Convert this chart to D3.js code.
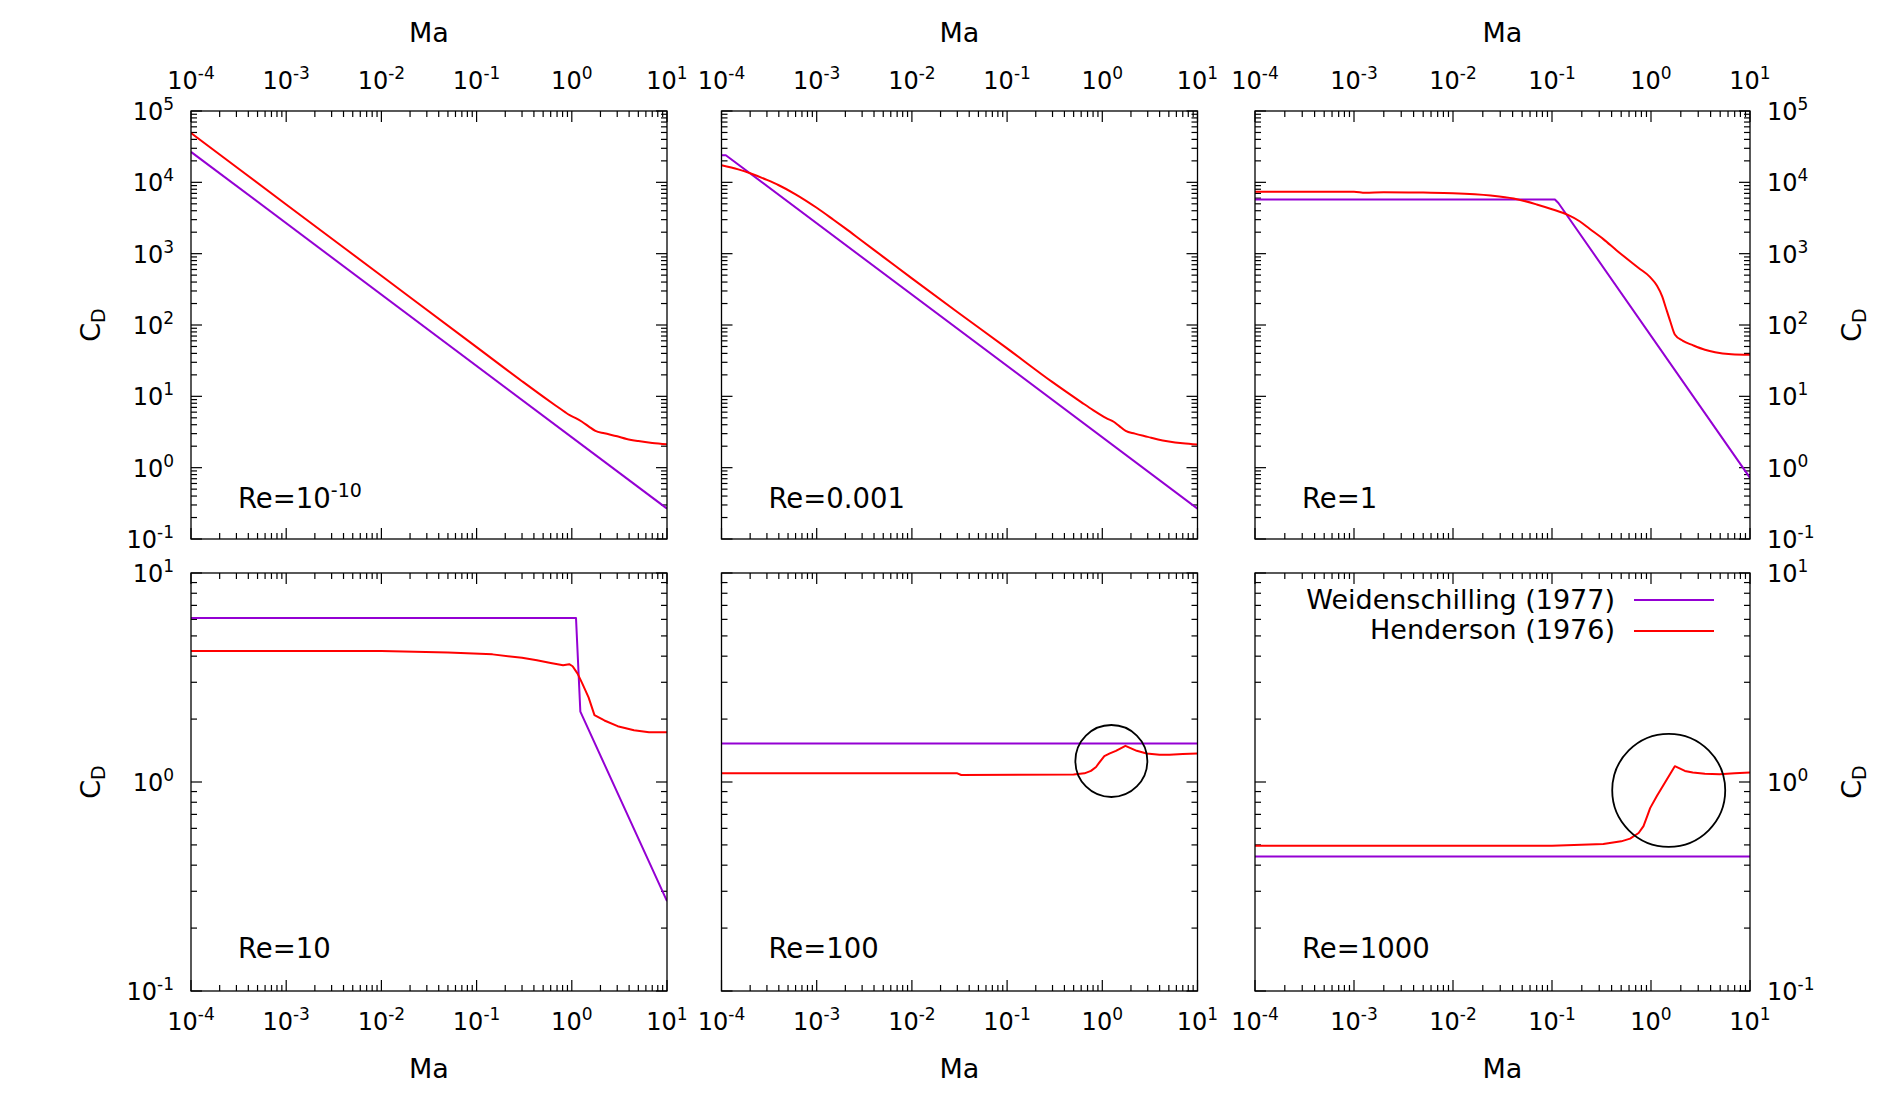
<!DOCTYPE html>
<html><head><meta charset="utf-8">
<script src="https://cdn.jsdelivr.net/npm/d3@7"></script>
<style>
body{margin:0;background:#fff}
svg{display:block}
text{font-family:"DejaVu Sans",sans-serif;fill:#000}
</style>
</head><body>
<svg id="chart" width="1900" height="1100"></svg>
<script>
// ---------------- data ----------------
const panelLabels = [["Re=10","-10"],["Re=0.001"],["Re=1"],["Re=10"],["Re=100"],["Re=1000"]];
const seriesNames = ["Weidenschilling (1977)", "Henderson (1976)"];
const xTickValues = [1e-4, 1e-3, 1e-2, 1e-1, 1, 10];
const xTickExponents = ["-4", "-3", "-2", "-1", "0", "1"];
const yTickValuesTop = [1e-1, 1, 10, 100, 1e3, 1e4, 1e5];
const yTickExponentsTop = ["-1", "0", "1", "2", "3", "4", "5"];
const yTickValuesBottom = [1e-1, 1, 10];
const yTickExponentsBottom = ["-1", "0", "1"];

// [Ma, C_D]
const weidRe1em10 = [[1e-4, 26700], [10, 0.267]];
const hendRe1em10 = [[1e-4, 49000], [1e-3, 4900], [1e-2, 490], [0.1, 49], [0.3, 16.3], [0.5, 9.9], [0.7, 7.2],
  [0.85, 6.0], [0.95, 5.45], [1.1, 4.95], [1.28, 4.4], [1.5, 3.8], [1.77, 3.27], [2.2, 3.03], [3, 2.75],
  [3.77, 2.53], [5, 2.36], [7, 2.22], [10, 2.13]];

const weidRe1em3 = [[1e-4, 24000], [1.11e-4, 24000], [10, 0.267]];
const hendRe1em3 = [[1e-4, 17400], [1.5e-4, 15200], [2e-4, 13400], [3e-4, 10800], [4e-4, 9100], [6e-4, 6800],
  [1e-3, 4400], [1.5e-3, 2990], [2e-3, 2260], [3e-3, 1505], [5e-3, 903], [1e-2, 451], [3e-2, 152],
  [0.1, 47], [0.3, 15.8], [0.6, 8.3], [0.8, 6.4], [0.96, 5.5], [1.1, 4.95], [1.33, 4.37], [1.5, 3.85],
  [1.76, 3.27], [2.2, 3.0], [3, 2.7], [3.85, 2.48], [5, 2.33], [7, 2.2], [10, 2.11]];

const weidRe1 = [[1e-4, 5740], [0.107, 5740], [0.116, 5130], [10, 0.72]];
const hendRe1 = [[1e-4, 7390], [1e-3, 7390], [1.3e-3, 7150], [2e-3, 7280], [5e-3, 7180], [1e-2, 7050],
  [0.024, 6550], [0.041, 5940], [0.07, 4900], [0.1, 4200], [0.143, 3530], [0.19, 2850], [0.241, 2220],
  [0.33, 1600], [0.45, 1110], [0.75, 630], [0.98, 469], [1.15, 355], [1.3, 250], [1.41, 176], [1.57, 111],
  [1.74, 73.8], [2.1, 60], [2.64, 52.2], [3.5, 45], [4.44, 41.5], [6.5, 39], [10, 38.3]];

const weidRe10 = [[1e-4, 6.09], [1.107, 6.09], [1.23, 2.17], [10, 0.269]];
const hendRe10 = [[1e-4, 4.24], [1e-2, 4.23], [0.05, 4.17], [0.147, 4.08], [0.3, 3.93], [0.43, 3.82],
  [0.6, 3.71], [0.81, 3.62], [0.94, 3.66], [1.02, 3.58], [1.15, 3.3], [1.28, 2.98], [1.5, 2.54],
  [1.73, 2.09], [2.2, 1.97], [3.03, 1.85], [4.5, 1.77], [6.47, 1.73], [10, 1.73]];

const weidRe100 = [[1e-4, 1.53], [10, 1.53]];
const hendRe100 = [[1e-4, 1.10], [0.03, 1.10], [0.033, 1.08], [0.5, 1.085], [0.65, 1.10], [0.76, 1.13],
  [0.86, 1.18], [0.92, 1.23], [1.05, 1.33], [1.2, 1.37], [1.39, 1.41], [1.75, 1.49], [2.3, 1.41],
  [2.92, 1.37], [4, 1.35], [5.08, 1.35], [7, 1.36], [10, 1.37]];

const weidRe1000 = [[1e-4, 0.44], [10, 0.44]];
const hendRe1000 = [[1e-4, 0.495], [0.1, 0.496], [0.33, 0.505], [0.5, 0.52], [0.615, 0.536], [0.75, 0.57],
  [0.84, 0.615], [0.92, 0.69], [0.98, 0.75], [1.15, 0.86], [1.74, 1.19], [2.2, 1.13], [2.64, 1.11],
  [3.5, 1.095], [4.93, 1.09], [7, 1.10], [10, 1.11]];

const weidSeries = [weidRe1em10, weidRe1em3, weidRe1, weidRe10, weidRe100, weidRe1000];
const hendSeries = [hendRe1em10, hendRe1em3, hendRe1, hendRe10, hendRe100, hendRe1000];

// highlighted regions (panel index, Ma, C_D)
const highlightPanels = [4, 5];
const highlightMa = [1.245, 1.51];
const highlightCd = [1.26, 0.912];

// ---------------- layout / style ----------------
const colors = ["#9400d3", "#ff0000"];
const cols = [[191, 667], [721.5, 1197.5], [1255, 1750]];
const rows = [[111, 539], [573, 991]];
const highlightRadius = [36, 56.5];
const tickFont = 24, supFont = 17, supRaise = 10;
const labelFont = 27;
const smoothPanels = [0, 1, 2];

const svg = d3.select("#chart");

function pow10(sel, base, exp, fs, sfs, raise) {
  sel.attr("font-size", fs);
  sel.append("tspan").text(base);
  if (exp !== undefined) sel.append("tspan").attr("font-size", sfs).attr("dy", -raise).text(exp);
}

for (let i = 0; i < 6; i++) {
  const c = i % 3, r = Math.floor(i / 3);
  const [x0, x1] = cols[c], [y0, y1] = rows[r];
  const x = d3.scaleLog().domain([1e-4, 10]).range([x0, x1]);
  const yDomain = r === 0 ? [0.1, 1e5] : [0.1, 10];
  const y = d3.scaleLog().domain(yDomain).range([y1, y0]);
  const g = svg.append("g");

  const clipId = "clip" + i;
  svg.append("clipPath").attr("id", clipId).append("rect")
    .attr("x", x0).attr("y", y0).attr("width", x1 - x0).attr("height", y1 - y0);

  // ticks
  const minors = (dom) => {
    const out = [];
    for (let e = Math.round(Math.log10(dom[0])); e < Math.round(Math.log10(dom[1])); e++)
      for (let k = 2; k <= 9; k++) out.push(k * Math.pow(10, e));
    return out;
  };
  const yMajor = r === 0 ? yTickValuesTop : yTickValuesBottom;
  const tk = g.append("g").attr("stroke", "#000").attr("stroke-width", 1.2);
  const drawX = (vals, len) => vals.forEach(v => {
    const px = x(v);
    tk.append("line").attr("x1", px).attr("x2", px).attr("y1", y1).attr("y2", y1 - len);
    tk.append("line").attr("x1", px).attr("x2", px).attr("y1", y0).attr("y2", y0 + len);
  });
  const drawY = (vals, len) => vals.forEach(v => {
    const py = y(v);
    tk.append("line").attr("x1", x0).attr("x2", x0 + len).attr("y1", py).attr("y2", py);
    tk.append("line").attr("x1", x1).attr("x2", x1 - len).attr("y1", py).attr("y2", py);
  });
  drawX(xTickValues, 11); drawX(minors([1e-4, 10]), 6);
  drawY(yMajor, 11); drawY(minors(yDomain), 6);

  // data lines
  const line = d3.line().x(d => x(d[0])).y(d => y(d[1]));
  const smoothLine = d3.line().x(d => x(d[0])).y(d => y(d[1])).curve(d3.curveMonotoneX);
  const lg = g.append("g").attr("clip-path", `url(#${clipId})`).attr("fill", "none")
    .attr("stroke-width", 2).attr("stroke-linejoin", "round");
  lg.append("path").attr("d", line(weidSeries[i])).attr("stroke", colors[0]);
  lg.append("path").attr("d", (smoothPanels.includes(i) ? smoothLine : line)(hendSeries[i])).attr("stroke", colors[1]);

  // highlight circle
  const hi = highlightPanels.indexOf(i);
  if (hi >= 0) {
    g.append("circle").attr("cx", x(highlightMa[hi])).attr("cy", y(highlightCd[hi]))
      .attr("r", highlightRadius[hi]).attr("fill", "none").attr("stroke", "#000").attr("stroke-width", 1.8);
  }

  // border
  g.append("rect").attr("x", x0).attr("y", y0).attr("width", x1 - x0).attr("height", y1 - y0)
    .attr("fill", "none").attr("stroke", "#000").attr("stroke-width", 1.3);

  // x tick labels & axis label
  const xc = (x0 + x1) / 2;
  if (r === 0) {
    xTickValues.forEach((v, k) => pow10(g.append("text").attr("x", x(v)).attr("y", 89).attr("text-anchor", "middle"),
      "10", xTickExponents[k], tickFont, supFont, supRaise));
    g.append("text").attr("x", xc).attr("y", 42).attr("text-anchor", "middle").attr("font-size", labelFont).text("Ma");
  } else {
    xTickValues.forEach((v, k) => pow10(g.append("text").attr("x", x(v)).attr("y", 1030).attr("text-anchor", "middle"),
      "10", xTickExponents[k], tickFont, supFont, supRaise));
    g.append("text").attr("x", xc).attr("y", 1078).attr("text-anchor", "middle").attr("font-size", labelFont).text("Ma");
  }

  // y tick labels & axis label
  const yExp = r === 0 ? yTickExponentsTop : yTickExponentsBottom;
  const yc = (y0 + y1) / 2;
  const cdLabel = (tx) => {
    const t = g.append("text").attr("transform", `translate(${tx},${yc}) rotate(-90)`)
      .attr("text-anchor", "middle").attr("font-size", labelFont);
    t.append("tspan").text("C");
    t.append("tspan").attr("font-size", 19).attr("dy", 5).text("D");
  };
  if (c === 0) {
    yMajor.forEach((v, k) => pow10(g.append("text").attr("x", 174).attr("y", y(v) + 9).attr("text-anchor", "end"),
      "10", yExp[k], tickFont, supFont, supRaise));
    cdLabel(100);
  }
  if (c === 2) {
    yMajor.forEach((v, k) => pow10(g.append("text").attr("x", 1767).attr("y", y(v) + 9).attr("text-anchor", "start"),
      "10", yExp[k], tickFont, supFont, supRaise));
    cdLabel(1861);
  }

  // panel label
  const lbl = panelLabels[i];
  pow10(g.append("text").attr("x", x0 + 47).attr("y", r === 0 ? 508 : 958),
    lbl[0], lbl[1], 27.5, 19, 11);

  // legend
  if (i === 5) {
    seriesNames.forEach((name, k) => {
      g.append("text").attr("x", 1615).attr("y", 609 + k * 30).attr("text-anchor", "end")
        .attr("font-size", labelFont).text(name);
      g.append("line").attr("x1", 1634).attr("x2", 1714).attr("y1", 600 + k * 31).attr("y2", 600 + k * 31)
        .attr("stroke", colors[k]).attr("stroke-width", 2);
    });
  }
}
</script>
</body></html>
